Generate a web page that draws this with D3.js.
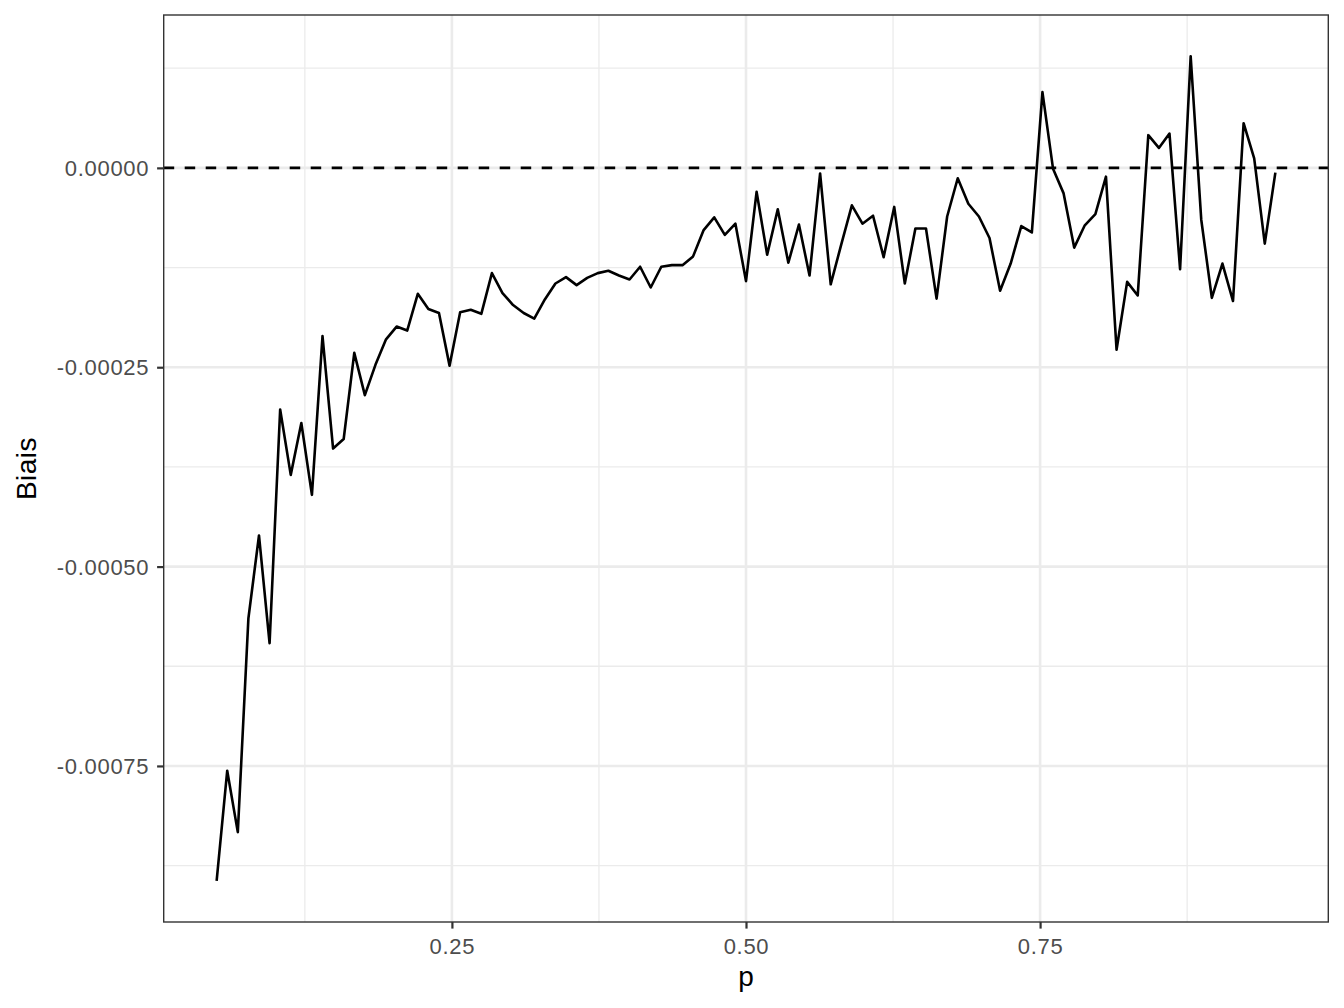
<!DOCTYPE html>
<html>
<head>
<meta charset="utf-8">
<script src="https://cdn.jsdelivr.net/npm/d3@7"></script>
<style>
  html, body { margin: 0; padding: 0; background: #fff; }
  text { font-family: "Liberation Sans", Arial, Helvetica, sans-serif; }
</style>
</head>
<body>
<div id="chart"></div>
<script>
// p grid (x)
const pValues = [
  0.050, 0.059, 0.068, 0.077, 0.086, 0.095, 0.104, 0.113, 0.122, 0.131,
  0.140, 0.149, 0.158, 0.167, 0.176, 0.185, 0.194, 0.203, 0.212, 0.221,
  0.230, 0.239, 0.248, 0.257, 0.266, 0.275, 0.284, 0.293, 0.302, 0.311,
  0.320, 0.329, 0.338, 0.347, 0.356, 0.365, 0.374, 0.383, 0.392, 0.401,
  0.410, 0.419, 0.428, 0.437, 0.446, 0.455, 0.464, 0.473, 0.482, 0.491,
  0.500, 0.509, 0.518, 0.527, 0.536, 0.545, 0.554, 0.563, 0.572, 0.581,
  0.590, 0.599, 0.608, 0.617, 0.626, 0.635, 0.644, 0.653, 0.662, 0.671,
  0.680, 0.689, 0.698, 0.707, 0.716, 0.725, 0.734, 0.743, 0.752, 0.761,
  0.770, 0.779, 0.788, 0.797, 0.806, 0.815, 0.824, 0.833, 0.842, 0.851,
  0.860, 0.869, 0.878, 0.887, 0.896, 0.905, 0.914, 0.923, 0.932, 0.941,
  0.950
];

// bias estimate for each p
const biais = [
  -0.000894, -0.000756, -0.000833, -0.000565, -0.000461, -0.000596, -0.000303, -0.000385, -0.000320, -0.000410,
  -0.000211, -0.000352, -0.000340, -0.000232, -0.000285, -0.000247, -0.000215, -0.000199, -0.000204, -0.000158,
  -0.000177, -0.000182, -0.000248, -0.000181, -0.000178, -0.000183, -0.000132, -0.000157, -0.000172, -0.000182,
  -0.000189, -0.000165, -0.000145, -0.000137, -0.000147, -0.000138, -0.000132, -0.000129, -0.000135, -0.000140,
  -0.000124, -0.000150, -0.000124, -0.000122, -0.000122, -0.000111, -0.000078, -0.000062, -0.000084, -0.000070,
  -0.000142, -0.000030, -0.000109, -0.000052, -0.000119, -0.000071, -0.000135, -0.000007, -0.000146, -0.000096,
  -0.000047, -0.000070, -0.000060, -0.000112, -0.000049, -0.000145, -0.000076, -0.000076, -0.000164, -0.000061,
  -0.000013, -0.000045, -0.000061, -0.000088, -0.000154, -0.000120, -0.000073, -0.000081, 0.000095, -0.000001,
  -0.000032, -0.000100, -0.000072, -0.000058, -0.000011, -0.000228, -0.000143, -0.000160, 0.000041, 0.000025,
  0.000043, -0.000127, 0.000140, -0.000065, -0.000163, -0.000120, -0.000167, 0.000056, 0.000012, -0.000095,
  -0.000006
];

const xBreaks = [0.25, 0.50, 0.75];
const xMinor = [0.125, 0.375, 0.625, 0.875];
const yBreaks = [0, -0.00025, -0.0005, -0.00075];
const yMinor = [0.000125, -0.000125, -0.000375, -0.000625, -0.000875];
const refLine = 0;

const W = 1344, H = 1008;
const panel = { left: 163.7, right: 1328.3, top: 15, bottom: 922 };

const data = pValues.map((p, i) => ({ p, b: biais[i] }));

// ggplot-like 5% expansion
function expand(ext) {
  const d = (ext[1] - ext[0]) * 0.05;
  return [ext[0] - d, ext[1] + d];
}

const x = d3.scaleLinear()
  .domain(expand(d3.extent(pValues)))
  .range([panel.left, panel.right]);
const y = d3.scaleLinear()
  .domain(expand(d3.extent(biais)))
  .range([panel.bottom, panel.top]);

const svg = d3.select("#chart").append("svg")
  .attr("width", W)
  .attr("height", H)
  .attr("viewBox", `0 0 ${W} ${H}`);

svg.append("rect").attr("width", W).attr("height", H).attr("fill", "#fff");

const grid = svg.append("g");

// minor grid
grid.selectAll("line.xminor").data(xMinor).join("line")
  .attr("x1", d => x(d)).attr("x2", d => x(d))
  .attr("y1", panel.top).attr("y2", panel.bottom)
  .attr("stroke", "#EBEBEB").attr("stroke-width", 1.3);
grid.selectAll("line.yminor").data(yMinor).join("line")
  .attr("y1", d => y(d)).attr("y2", d => y(d))
  .attr("x1", panel.left).attr("x2", panel.right)
  .attr("stroke", "#EBEBEB").attr("stroke-width", 1.3);

// major grid
grid.selectAll("line.xmajor").data(xBreaks).join("line")
  .attr("x1", d => x(d)).attr("x2", d => x(d))
  .attr("y1", panel.top).attr("y2", panel.bottom)
  .attr("stroke", "#EBEBEB").attr("stroke-width", 2.6);
grid.selectAll("line.ymajor").data(yBreaks).join("line")
  .attr("y1", d => y(d)).attr("y2", d => y(d))
  .attr("x1", panel.left).attr("x2", panel.right)
  .attr("stroke", "#EBEBEB").attr("stroke-width", 2.6);

// the series
const line = d3.line().x(d => x(d.p)).y(d => y(d.b));
svg.append("path")
  .datum(data)
  .attr("d", line)
  .attr("fill", "none")
  .attr("stroke", "#000")
  .attr("stroke-width", 2.6)
  .attr("stroke-linejoin", "round");

// zero reference
svg.append("line")
  .attr("x1", panel.left).attr("x2", panel.right)
  .attr("y1", y(refLine)).attr("y2", y(refLine))
  .attr("stroke", "#000")
  .attr("stroke-width", 2.6)
  .attr("stroke-dasharray", "10.5,10.5");

// panel border
svg.append("rect")
  .attr("x", panel.left).attr("y", panel.top)
  .attr("width", panel.right - panel.left)
  .attr("height", panel.bottom - panel.top)
  .attr("fill", "none")
  .attr("stroke", "#333333")
  .attr("stroke-width", 1.4);

// axes
const xAxis = d3.axisBottom(x).tickValues(xBreaks).tickSize(6.6).tickPadding(5).tickFormat(d => d.toFixed(2));
const yAxis = d3.axisLeft(y).tickValues(yBreaks).tickSize(6.6).tickPadding(5).tickFormat(d => d.toFixed(5));

const gx = svg.append("g").attr("transform", `translate(0,${panel.bottom})`).call(xAxis);
const gy = svg.append("g").attr("transform", `translate(${panel.left},0)`).call(yAxis);

[gx, gy].forEach(g => {
  g.select(".domain").remove();
  g.selectAll(".tick line").attr("stroke", "#333333").attr("stroke-width", 2.2);
  g.selectAll(".tick text")
    .attr("fill", "#4D4D4D")
    .style("font-size", "22px")
    .style("letter-spacing", "0.7px")
    .style("font-family", "'Liberation Sans', Arial, sans-serif");
});
gx.selectAll(".tick text").attr("dy", null).attr("y", 31.5);
gy.selectAll(".tick text").attr("dy", "0.35em").attr("x", -14.5);

// axis titles
svg.append("text")
  .attr("x", (panel.left + panel.right) / 2)
  .attr("y", 985.5)
  .attr("text-anchor", "middle")
  .style("font-size", "28px")
  .attr("fill", "#000")
  .text("p");

svg.append("text")
  .attr("transform", `translate(36,${(panel.top + panel.bottom) / 2}) rotate(-90)`)
  .attr("text-anchor", "middle")
  .style("font-size", "28px")
  .style("letter-spacing", "0.5px")
  .attr("fill", "#000")
  .text("Biais");
</script>
</body>
</html>
